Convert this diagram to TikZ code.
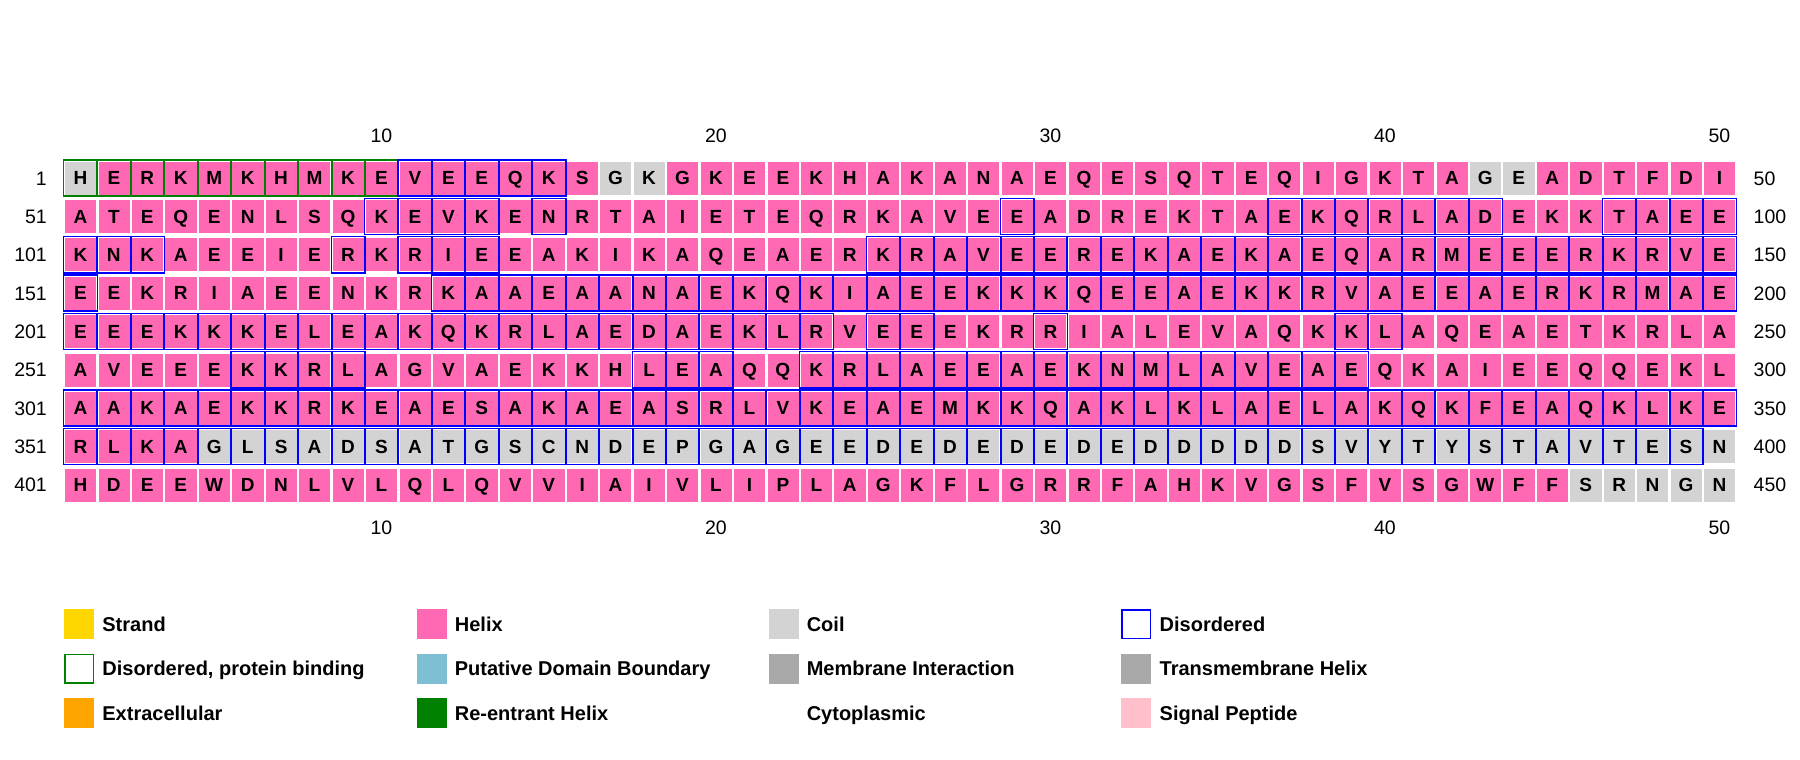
\documentclass[tikz,border=0pt]{standalone}
\usepackage{fontspec}
\setmainfont{Liberation Sans}
\definecolor{helixc}{HTML}{FF69B4}
\definecolor{coilc}{HTML}{D3D3D3}
\definecolor{disc}{HTML}{0000FF}
\definecolor{dpbc}{HTML}{008000}
\definecolor{strandc}{HTML}{FFD700}
\definecolor{extrac}{HTML}{FFA500}
\definecolor{pdbc}{HTML}{7FBFD4}
\definecolor{reentc}{HTML}{008000}
\definecolor{memc}{HTML}{A9A9A9}
\definecolor{tmc}{HTML}{A9A9A9}
\definecolor{sigc}{HTML}{FFC0CB}
\tikzset{
  cell/.style={minimum width=32.2pt, minimum height=34pt, inner sep=0pt, draw=white, line width=0.5pt,
    text height=13.6pt, text depth=0pt, font=\fontsize{19}{19}\selectfont\bfseries},
  disb/.style={draw=disc, line width=1.5pt},
  dpb/.style={draw=dpbc, line width=1.5pt},
  num/.style={inner sep=0pt, text height=14pt, text depth=0pt, font=\fontsize{19.5}{19.5}\selectfont},
  sw/.style={minimum size=30pt, inner sep=0pt, draw=none},
  swo/.style={minimum size=28.5pt, inner sep=0pt, fill=white, line width=1.5pt},
  lg/.style={anchor=west, inner sep=0pt, text height=14.3pt, text depth=0pt, font=\fontsize{20}{20}\selectfont\bfseries}
}
\newcommand\seqrow[5]{%
  \foreach \ch [count=\k] in {#2} {%
    \pgfmathsetmacro\cx{80.4+(\k-1)*33.45}%
    \pgfmathsetmacro\cy{178+(#1-1)*38.35}%
    \pgfmathtruncatemacro\isg{#3}%
    \ifnum\isg>0 \node[cell,fill=coilc] (c#1-\k) at (\cx,\cy) {\ch};%
    \else \node[cell,fill=helixc] (c#1-\k) at (\cx,\cy) {\ch};\fi
  }%
  \foreach \k in {1,...,50} {%
    \pgfmathtruncatemacro\isgn{#5}%
    \pgfmathtruncatemacro\isb{#4}%
    \ifnum\isgn>0 \draw[dpb] ([shift={(-0.4,-0.8)}]c#1-\k.north west) rectangle ([shift={(0.85,0.8)}]c#1-\k.south east);\fi
    \ifnum\isb>0 \draw[disb] ([shift={(-0.4,-0.8)}]c#1-\k.north west) rectangle ([shift={(0.85,0.8)}]c#1-\k.south east);\fi
  }%
}
\begin{document}
\begin{tikzpicture}[x=1pt,y=-1pt]
\useasboundingbox[fill=white] (0,0) rectangle (1800,760);

\seqrow{1}{H,E,R,K,M,K,H,M,K,E,V,E,E,Q,K,S,G,K,G,K,E,E,K,H,A,K,A,N,A,E,Q,E,S,Q,T,E,Q,I,G,K,T,A,G,E,A,D,T,F,D,I}
  {(\k==1)+(\k==17)+(\k==18)+(\k==43)+(\k==44)}{(\k>=11)*(\k<=15)}{(\k<=10)}
\seqrow{2}{A,T,E,Q,E,N,L,S,Q,K,E,V,K,E,N,R,T,A,I,E,T,E,Q,R,K,A,V,E,E,A,D,R,E,K,T,A,E,K,Q,R,L,A,D,E,K,K,T,A,E,E}
  {0}{(\k>=10)*(\k<=13)+(\k==15)+(\k==29)+(\k>=37)*(\k<=43)+(\k>=47)}{0}
\seqrow{3}{K,N,K,A,E,E,I,E,R,K,R,I,E,E,A,K,I,K,A,Q,E,A,E,R,K,R,A,V,E,E,R,E,K,A,E,K,A,E,Q,A,R,M,E,E,E,R,K,R,V,E}
  {0}{(\k<=3)+(\k==9)+(\k>=11)*(\k<=13)+(\k>=25)}{0}
\seqrow{4}{E,E,K,R,I,A,E,E,N,K,R,K,A,A,E,A,A,N,A,E,K,Q,K,I,A,E,E,K,K,K,Q,E,E,A,E,K,K,R,V,A,E,E,A,E,R,K,R,M,A,E}
  {0}{(\k==1)+(\k>=12)}{0}
\seqrow{5}{E,E,E,K,K,K,E,L,E,A,K,Q,K,R,L,A,E,D,A,E,K,L,R,V,E,E,E,K,R,R,I,A,L,E,V,A,Q,K,K,L,A,Q,E,A,E,T,K,R,L,A}
  {0}{(\k<=23)+(\k==25)+(\k==26)+(\k==30)+(\k==39)+(\k==40)}{0}
\seqrow{6}{A,V,E,E,E,K,K,R,L,A,G,V,A,E,K,K,H,L,E,A,Q,Q,K,R,L,A,E,E,A,E,K,N,M,L,A,V,E,A,E,Q,K,A,I,E,E,Q,Q,E,K,L}
  {0}{(\k>=6)*(\k<=9)+(\k>=18)*(\k<=20)+(\k>=23)*(\k<=39)}{0}
\seqrow{7}{A,A,K,A,E,K,K,R,K,E,A,E,S,A,K,A,E,A,S,R,L,V,K,E,A,E,M,K,K,Q,A,K,L,K,L,A,E,L,A,K,Q,K,F,E,A,Q,K,L,K,E}
  {0}{1}{0}
\seqrow{8}{R,L,K,A,G,L,S,A,D,S,A,T,G,S,C,N,D,E,P,G,A,G,E,E,D,E,D,E,D,E,D,E,D,D,D,D,D,S,V,Y,T,Y,S,T,A,V,T,E,S,N}
  {(\k>=5)}{(\k<=49)}{0}
\seqrow{9}{H,D,E,E,W,D,N,L,V,L,Q,L,Q,V,V,I,A,I,V,L,I,P,L,A,G,K,F,L,G,R,R,F,A,H,K,V,G,S,F,V,S,G,W,F,F,S,R,N,G,N}
  {(\k>=46)}{0}{0}

% rulers
\foreach \n in {10,20,30,40,50} {
  \node[num] (top\n) at ({80.4+(\n-1)*33.45},135.7) {\n};
  \node[num] (bot\n) at ({80.4+(\n-1)*33.45},527.3) {\n};
}
% row numbers
\foreach \r/\a/\b in {1/1/50,2/51/100,3/101/150,4/151/200,5/201/250,6/251/300,7/301/350,8/351/400,9/401/450} {
  \node[num,anchor=east] (ln\r) at (47,{178+(\r-1)*38.35}) {\a};
  \node[num,anchor=west] (rn\r) at (1753.5,{178+(\r-1)*38.35}) {\b};
}

% legend
\node[sw,fill=strandc] (s1) at (79.3,624) {};
\node[lg] (t1) at (102.2,624) {Strand};
\node[sw,fill=helixc] (s2) at (432.3,624) {};
\node[lg] (t2) at (454.7,624) {Helix};
\node[sw,fill=coilc] (s3) at (784.2,624) {};
\node[lg] (t3) at (806.6,624) {Coil};
\node[swo,draw=disc] (s4) at (1136,624) {};
\node[lg] (t4) at (1159.5,624) {Disordered};

\node[swo,draw=dpbc] (s5) at (79.3,668.5) {};
\node[lg] (t5) at (102.2,668.5) {Disordered, protein binding};
\node[sw,fill=pdbc] (s6) at (432.3,668.5) {};
\node[lg] (t6) at (454.7,668.5) {Putative Domain Boundary};
\node[sw,fill=memc] (s7) at (784.2,668.5) {};
\node[lg] (t7) at (806.6,668.5) {Membrane Interaction};
\node[sw,fill=tmc] (s8) at (1136,668.5) {};
\node[lg] (t8) at (1159.5,668.5) {Transmembrane Helix};

\node[sw,fill=extrac] (s9) at (79.3,713) {};
\node[lg] (t9) at (102.2,713) {Extracellular};
\node[sw,fill=reentc] (s10) at (432.3,713) {};
\node[lg] (t10) at (454.7,713) {Re-entrant Helix};
\node[lg] (t11) at (806.6,713) {Cytoplasmic};
\node[sw,fill=sigc] (s12) at (1136,713) {};
\node[lg] (t12) at (1159.5,713) {Signal Peptide};
\end{tikzpicture}
\end{document}
